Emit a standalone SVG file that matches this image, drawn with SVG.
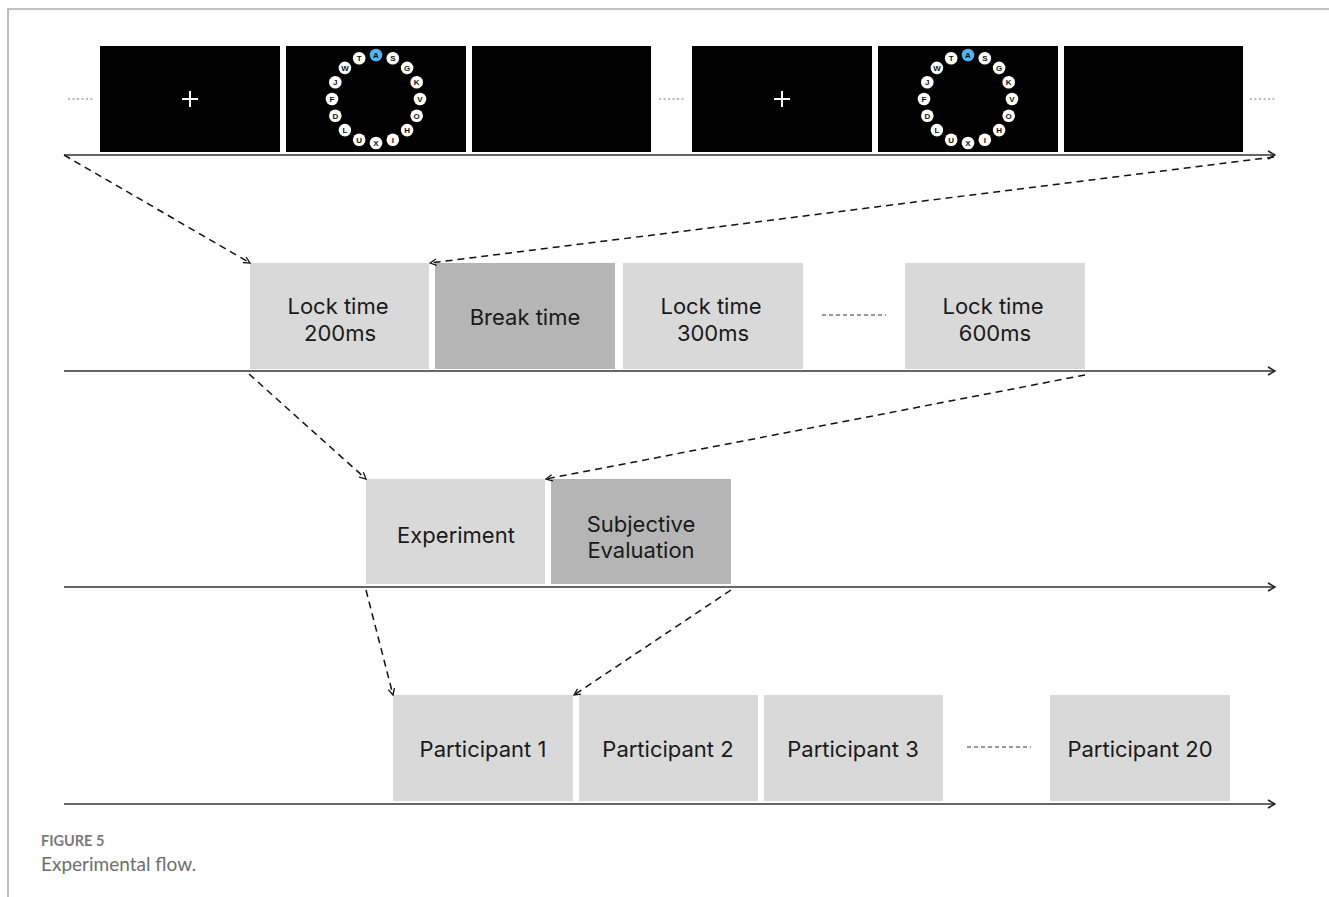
<svg xmlns="http://www.w3.org/2000/svg" xmlns:xlink="http://www.w3.org/1999/xlink" width="1329" height="897" viewBox="0 0 1329 897">
<style>
.frame{stroke:#aaa;stroke-width:1.5;fill:none}
.panel{fill:#000}
.light{fill:#d9d9d9}
.dark{fill:#b5b5b5}
.lbl{font-family:Inter,"Liberation Sans",sans-serif;font-size:22px;fill:#1a1a1a;text-anchor:middle}
.axis{stroke:#333;stroke-width:1.6;fill:none}
.dash{stroke:#111;stroke-width:1.5;stroke-dasharray:7 5;fill:none}
.dots{stroke:#777;stroke-width:1.2;stroke-dasharray:2 2.5;fill:none}
.gdash{stroke:#333;stroke-width:1.2;stroke-dasharray:4 3;fill:none}
.lc{fill:#fff}
.lt{font-family:"Liberation Sans",sans-serif;font-size:8px;font-weight:bold;fill:#111;text-anchor:middle}
.cap1{font-family:Lato,"Liberation Sans",sans-serif;font-size:14.5px;font-weight:bold;fill:#7a7a7a}
.cap2{font-family:Lato,"Liberation Sans",sans-serif;font-size:19px;fill:#6e6e6e}
</style>
<defs>
<marker id="ah" viewBox="0 0 10 10" refX="9" refY="5" markerWidth="8" markerHeight="8" orient="auto" markerUnits="userSpaceOnUse">
<path d="M1,1 L9,5 L1,9" fill="none" stroke="#111" stroke-width="1.6"/>
</marker>
<marker id="ax" viewBox="0 0 10 10" refX="9" refY="5" markerWidth="10" markerHeight="10" orient="auto" markerUnits="userSpaceOnUse">
<path d="M2,1 L9,5 L2,9" fill="none" stroke="#222" stroke-width="1.6"/>
</marker>
<g id="ring">
<circle cx="0" cy="-44" r="6.3" fill="#4fb6ee"/><text x="0" y="-41.2" class="lt" fill="#1d5f8f">A</text>
<circle cx="16.8" cy="-40.7" r="6.3" class="lc"/><text x="16.8" y="-37.9" class="lt">S</text>
<circle cx="31.1" cy="-31.1" r="6.3" class="lc"/><text x="31.1" y="-28.3" class="lt">G</text>
<circle cx="40.7" cy="-16.8" r="6.3" class="lc"/><text x="40.7" y="-14" class="lt">K</text>
<circle cx="44" cy="0" r="6.3" class="lc"/><text x="44" y="2.8" class="lt">V</text>
<circle cx="40.7" cy="16.8" r="6.3" class="lc"/><text x="40.7" y="19.6" class="lt">O</text>
<circle cx="31.1" cy="31.1" r="6.3" class="lc"/><text x="31.1" y="33.9" class="lt">H</text>
<circle cx="16.8" cy="40.7" r="6.3" class="lc"/><text x="16.8" y="43.5" class="lt">I</text>
<circle cx="0" cy="44" r="6.3" class="lc"/><text x="0" y="46.8" class="lt">X</text>
<circle cx="-16.8" cy="40.7" r="6.3" class="lc"/><text x="-16.8" y="43.5" class="lt">U</text>
<circle cx="-31.1" cy="31.1" r="6.3" class="lc"/><text x="-31.1" y="33.9" class="lt">L</text>
<circle cx="-40.7" cy="16.8" r="6.3" class="lc"/><text x="-40.7" y="19.6" class="lt">D</text>
<circle cx="-44" cy="0" r="6.3" class="lc"/><text x="-44" y="2.8" class="lt">F</text>
<circle cx="-40.7" cy="-16.8" r="6.3" class="lc"/><text x="-40.7" y="-14" class="lt">J</text>
<circle cx="-31.1" cy="-31.1" r="6.3" class="lc"/><text x="-31.1" y="-28.3" class="lt">W</text>
<circle cx="-16.8" cy="-40.7" r="6.3" class="lc"/><text x="-16.8" y="-37.9" class="lt">T</text>
</g>
</defs>
<rect width="1329" height="897" fill="#fff"/>
<path class="frame" d="M8,897 V9 H1329"/>

<g id="top-row">
<rect class="panel" x="100" y="46" width="180" height="106"/>
<path d="M182,99 H198 M190,91 V107" stroke="#fff" stroke-width="2"/>
<rect class="panel" x="286" y="46" width="180" height="106"/>
<use xlink:href="#ring" href="#ring" transform="translate(376,99)"/>
<rect class="panel" x="472" y="46" width="179" height="106"/>
<rect class="panel" x="692" y="46" width="180" height="106"/>
<path d="M774,99 H790 M782,91 V107" stroke="#fff" stroke-width="2"/>
<rect class="panel" x="878" y="46" width="180" height="106"/>
<use xlink:href="#ring" href="#ring" transform="translate(968,99)"/>
<rect class="panel" x="1064" y="46" width="179" height="106"/>
<path class="dots" d="M68,99 H94 M659,99 H685 M1250,99 H1276"/>
</g>

<g id="row2">
<g id="lock200"><rect class="light" x="250" y="263" width="179" height="106"/><text class="lbl" x="338" y="314">Lock time</text><text class="lbl" x="340" y="341">200ms</text></g>
<g id="break"><rect class="dark" x="435" y="263" width="180" height="106"/><text class="lbl" x="525" y="325">Break time</text></g>
<g id="lock300"><rect class="light" x="623" y="263" width="180" height="106"/><text class="lbl" x="711" y="314">Lock time</text><text class="lbl" x="713" y="341">300ms</text></g>
<path class="gdash" d="M822,315 H886"/>
<g id="lock600"><rect class="light" x="905" y="263" width="180" height="106"/><text class="lbl" x="993" y="314">Lock time</text><text class="lbl" x="995" y="341">600ms</text></g>
</g>

<g id="row3">
<g id="experiment"><rect class="light" x="366" y="479" width="179" height="105"/><text class="lbl" x="456" y="543">Experiment</text></g>
<g id="subjective"><rect class="dark" x="551" y="479" width="180" height="105"/><text class="lbl" x="641" y="532">Subjective</text><text class="lbl" x="641" y="558">Evaluation</text></g>
</g>

<g id="row4">
<g id="p1"><rect class="light" x="393" y="695" width="180" height="106"/><text class="lbl" x="483" y="757">Participant 1</text></g>
<g id="p2"><rect class="light" x="579" y="695" width="179" height="106"/><text class="lbl" x="668" y="757">Participant 2</text></g>
<g id="p3"><rect class="light" x="764" y="695" width="179" height="106"/><text class="lbl" x="853" y="757">Participant 3</text></g>
<path class="gdash" d="M967,747 H1031"/>
<g id="p20"><rect class="light" x="1050" y="695" width="180" height="106"/><text class="lbl" x="1140" y="757">Participant 20</text></g>
</g>

<g id="connectors">
<path class="axis" d="M64,155 H1275" marker-end="url(#ax)"/>
<path class="axis" d="M64,371 H1275" marker-end="url(#ax)"/>
<path class="axis" d="M64,587 H1275" marker-end="url(#ax)"/>
<path class="axis" d="M64,804 H1275" marker-end="url(#ax)"/>
<path class="dash" d="M64,155 L250,263" marker-end="url(#ah)"/>
<path class="dash" d="M1274,157 L430,263" marker-end="url(#ah)"/>
<path class="dash" d="M249,374 L366,479" marker-end="url(#ah)"/>
<path class="dash" d="M1085,375 L546,479" marker-end="url(#ah)"/>
<path class="dash" d="M366,590 L393,695" marker-end="url(#ah)"/>
<path class="dash" d="M731,590 L574,695" marker-end="url(#ah)"/>
</g>

<g id="caption">
<text class="cap1" x="41" y="846">FIGURE 5</text>
<text class="cap2" x="41" y="871">Experimental flow.</text>
</g>
</svg>
